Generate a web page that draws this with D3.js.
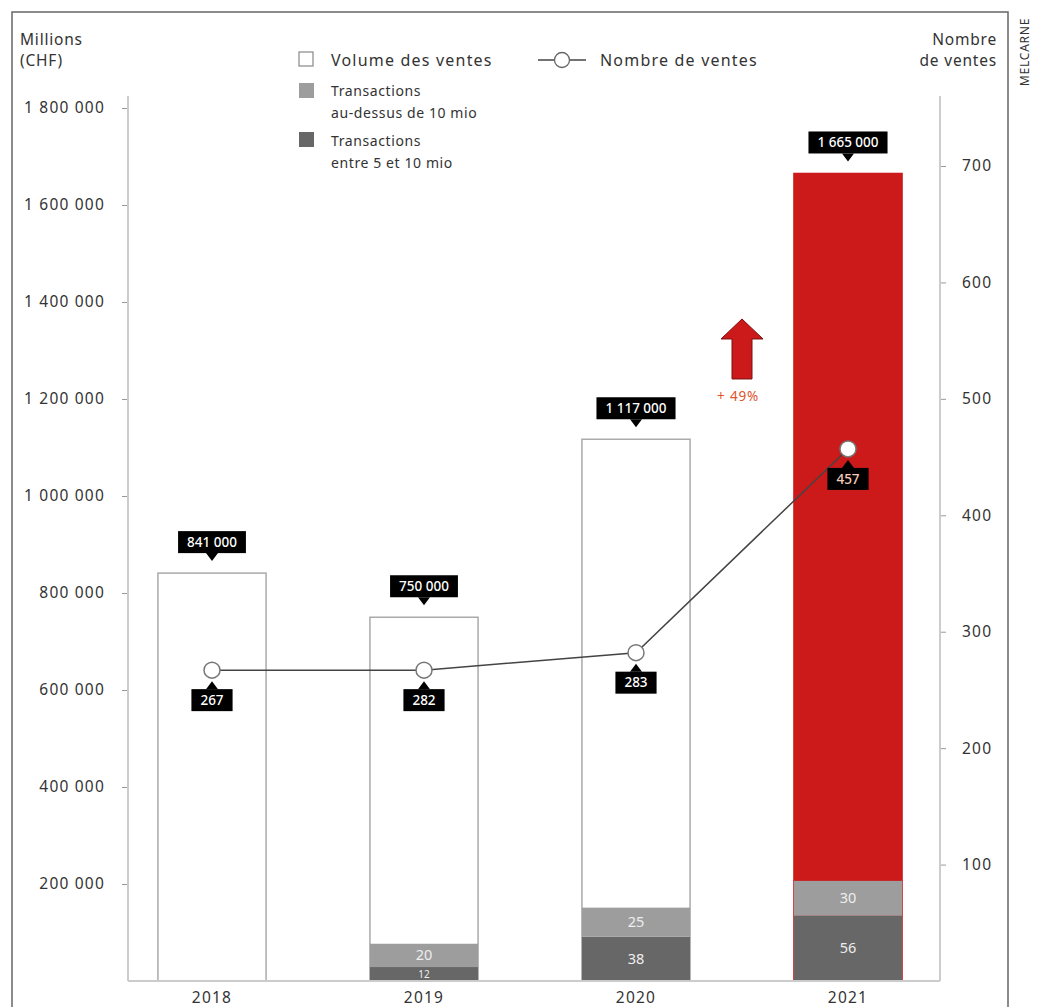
<!DOCTYPE html>
<html><head><meta charset="utf-8">
<script src="https://cdn.jsdelivr.net/npm/d3@7"></script>
<style>
body{margin:0;background:#fff;}
svg{display:block;font-family:"Noto Sans",sans-serif;}
</style></head>
<body><svg id="c" width="1041" height="1007"></svg>
<script>
// ---- data ----
const years = ["2018","2019","2020","2021"];
const volume = [841000, 750000, 1117000, 1665000];          // Millions CHF
const volumeLabels = ["841 000","750 000","1 117 000","1 665 000"];
const salesCount = [267, 282, 283, 457];                     // labels as printed
const salesDrawn = [267, 267, 282, 457];                     // point heights as drawn in the picture
const over10 = [0, 20, 25, 30];                              // transactions above 10 mio
const between5and10 = [0, 12, 38, 56];                       // transactions between 5 and 10 mio
const leftTicks = [200000,400000,600000,800000,1000000,1200000,1400000,1600000,1800000];
const rightTicks = [100,200,300,400,500,600,700];
const growthLabel = "+ 49%";

const svg = d3.select("#c");
const fmt = v => d3.format(",")(v).replace(/,/g, " ");
const TXT = "#333";

const x = d3.scaleBand().domain(years).range([106, 954]).paddingInner(0.49).paddingOuter(0.245);
const yL = d3.scaleLinear().domain([0, 1800000]).range([981, 108]);
const yR = d3.scaleLinear().domain([0, 700]).range([981, 166]);

function label(xp, yp, t, fs, anchor, ls){
  return svg.append("text").attr("x",xp).attr("y",yp).attr("font-size",fs).attr("fill",TXT)
    .attr("text-anchor",anchor||"start").attr("letter-spacing",ls==null?1:ls).text(t);
}

// frame
svg.append("path").attr("d","M12,1007 V12 H1008 V1007").attr("fill","none").attr("stroke","#666").attr("stroke-width",1.5);
svg.append("text").attr("transform","translate(1029,52) rotate(-90)").attr("text-anchor","middle")
  .attr("font-size",12).attr("fill",TXT).attr("letter-spacing",0.8).text("MELCARNE");

// axis titles
label(20,45,"Millions",15.5,"start",0.8);
label(20,66,"(CHF)",15.5,"start",0.8);
label(997,45,"Nombre",15.5,"end",0.8);
label(997,66,"de ventes",15.5,"end",0.8);

// axes
const axL = svg.append("g").attr("transform","translate(128,0)")
  .call(d3.axisLeft(yL).tickValues(leftTicks).tickSize(6).tickPadding(17).tickFormat(fmt));
const axR = svg.append("g").attr("transform","translate(940,0)")
  .call(d3.axisRight(yR).tickValues(rightTicks).tickSize(6).tickPadding(16));
[axL, axR].forEach(g=>{
  g.select(".domain").remove();
  g.selectAll(".tick line").attr("stroke","#999").attr("stroke-width",1);
  g.selectAll(".tick text").attr("font-size",15.5).attr("fill",TXT).attr("letter-spacing",1.2)
    .attr("font-family","Noto Sans, sans-serif");
});
svg.append("line").attr("x1",128).attr("x2",128).attr("y1",96).attr("y2",981).attr("stroke","#ccc").attr("stroke-width",2);
svg.append("line").attr("x1",940).attr("x2",940).attr("y1",96).attr("y2",981).attr("stroke","#ccc").attr("stroke-width",2);

// bars
const bars = svg.append("g");
years.forEach((yr,i)=>{
  const bx = x(yr), bw = x.bandwidth();
  const red = i === years.length-1;
  bars.append("rect").attr("x",bx).attr("y",yL(volume[i])).attr("width",bw).attr("height",yL(0)-yL(volume[i]))
    .attr("fill", red ? "#cc1a1a" : "#fff").attr("stroke", red ? "#cc1a1a" : "#aaa").attr("stroke-width",1.5);
  if (between5and10[i] > 0){
    const y0 = yR(0), y1 = yR(between5and10[i]), y2 = yR(between5and10[i]+over10[i]);
    bars.append("rect").attr("x",bx).attr("y",y1).attr("width",bw).attr("height",y0-y1).attr("fill","#676767");
    bars.append("rect").attr("x",bx).attr("y",y2).attr("width",bw).attr("height",y1-y2).attr("fill","#9d9d9d");
    const small = (y0-y1) < 18;
    bars.append("text").attr("x",bx+bw/2).attr("y",(y0+y1)/2).attr("dy","0.35em").attr("text-anchor","middle")
      .attr("font-size", small ? 10 : 14.5).attr("fill","#eee").text(between5and10[i]);
    bars.append("text").attr("x",bx+bw/2).attr("y",(y1+y2)/2).attr("dy","0.35em").attr("text-anchor","middle")
      .attr("font-size",14.5).attr("fill","#eee").text(over10[i]);
  }
  // year label
  label(bx+bw/2, 1003, yr, 15.5, "middle", 1.2);
});
svg.append("line").attr("x1",128).attr("x2",940).attr("y1",981).attr("y2",981).attr("stroke","#ccc").attr("stroke-width",2);

// labels helper
function tag(cx, boxTop, text, pointerDown, tipY, color, fs){
  const g = svg.append("g");
  const t = g.append("text").attr("x",cx).attr("y",boxTop+11).attr("dy","0.35em").attr("text-anchor","middle")
    .attr("font-size",fs).attr("font-weight",500).attr("fill",color).text(text);
  const w = t.node().getComputedTextLength() + 18;
  const h = 22;
  g.insert("rect","text").attr("x",cx-w/2).attr("y",boxTop).attr("width",w).attr("height",h).attr("fill","#000");
  if (pointerDown){
    g.insert("path","text").attr("d",`M${cx-6},${boxTop+h} L${cx+6},${boxTop+h} L${cx},${tipY} Z`).attr("fill","#000");
  } else {
    g.insert("path","text").attr("d",`M${cx-6},${boxTop} L${cx+6},${boxTop} L${cx},${tipY} Z`).attr("fill","#000");
  }
}
years.forEach((yr,i)=>{
  const cx = x(yr)+x.bandwidth()/2;
  const top = yL(volume[i]);
  tag(cx, top-42, volumeLabels[i], true, top-12, "#fff", 13.5);
});

// line
const cxs = years.map(yr=>x(yr)+x.bandwidth()/2);
const line = d3.line().x((d,i)=>cxs[i]).y(d=>yR(d));
svg.append("path").attr("d",line(salesDrawn)).attr("fill","none").attr("stroke","#444").attr("stroke-width",1.5);
salesDrawn.forEach((v,i)=>{
  svg.append("circle").attr("cx",cxs[i]).attr("cy",yR(v)).attr("r",8).attr("fill","#fff").attr("stroke","#777").attr("stroke-width",1.5);
  const cy = yR(v);
  tag(cxs[i], cy+19, String(salesCount[i]), false, cy+11, i===3 ? "#f6cdb8" : "#fff", 13.5);
});

// growth arrow
const ax = 742, ay = yL(1365000);
svg.append("path").attr("d",`M${ax},${ay} L${ax+21},${ay+20} L${ax+10},${ay+20} L${ax+10},${ay+60} L${ax-10},${ay+60} L${ax-10},${ay+20} L${ax-21},${ay+20} Z`)
  .attr("fill","#cc1a1a").attr("stroke","#7a1010").attr("stroke-width",1);
svg.append("text").attr("x",ax-4).attr("y",ay+82).attr("text-anchor","middle").attr("font-size",13.5)
  .attr("letter-spacing",0.8).attr("fill","#e0532e").text(growthLabel);

// legend
const lg = svg.append("g");
lg.append("rect").attr("x",299).attr("y",52).attr("width",14).attr("height",14).attr("fill","#fff").attr("stroke","#888").attr("stroke-width",1.2);
label(331,66,"Volume des ventes",16,"start",1.2);
lg.append("line").attr("x1",538).attr("x2",586).attr("y1",60).attr("y2",60).attr("stroke","#444").attr("stroke-width",1.5);
lg.append("circle").attr("cx",562).attr("cy",60).attr("r",7.5).attr("fill","#fff").attr("stroke","#666").attr("stroke-width",1.3);
label(600,66,"Nombre de ventes",16,"start",1.2);
lg.append("rect").attr("x",299).attr("y",83).attr("width",15).attr("height",15).attr("fill","#9d9d9d");
label(331,96,"Transactions",14,"start",0.6);
label(331,118,"au-dessus de 10 mio",14,"start",0.6);
lg.append("rect").attr("x",299).attr("y",132).attr("width",15).attr("height",15).attr("fill","#676767");
label(331,146,"Transactions",14,"start",0.6);
label(331,168,"entre 5 et 10 mio",14,"start",0.6);
</script>
</body></html>
